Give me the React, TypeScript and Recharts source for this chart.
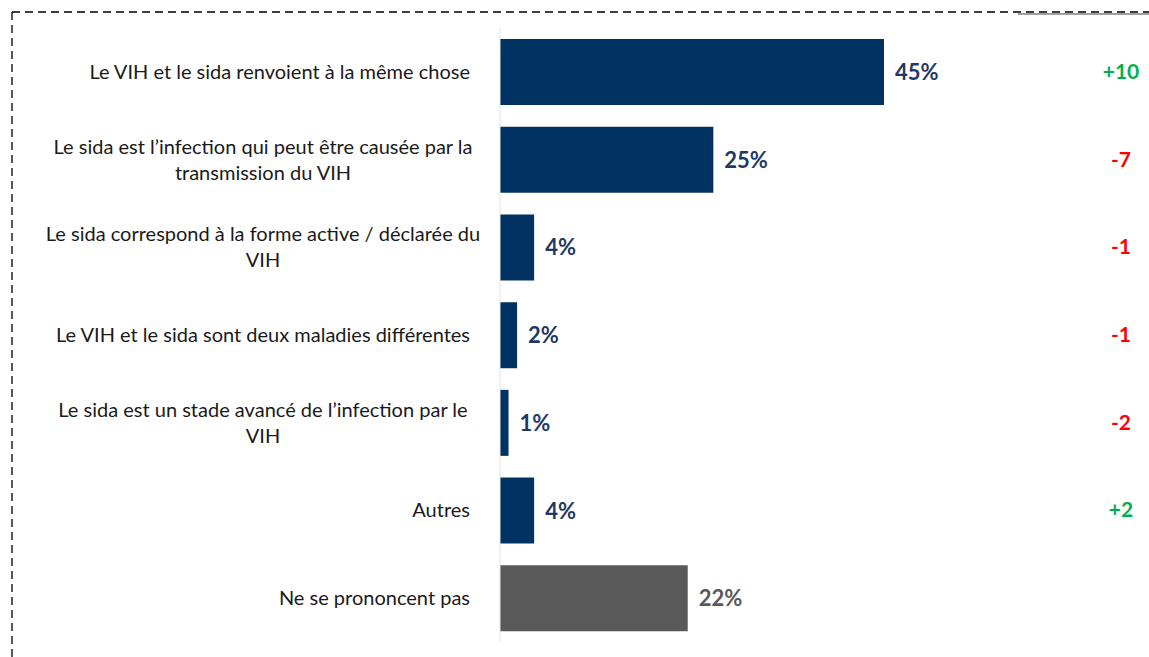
import React from 'react';
import { BarChart, Bar, XAxis, YAxis, Cell, LabelList } from 'recharts';

const categories = [
  'Le VIH et le sida renvoient à la même chose',
  'Le sida est l’infection qui peut être causée par la|transmission du VIH',
  'Le sida correspond à la forme active / déclarée du|VIH',
  'Le VIH et le sida sont deux maladies différentes',
  'Le sida est un stade avancé de l’infection par le|VIH',
  'Autres',
  'Ne se prononcent pas',
];
const values = [45, 25, 4, 2, 1, 4, 22];
const changes = ['+10', '-7', '-1', '-1', '-2', '+2', ''];

const NAVY = '#003262';
const GREY = '#595959';
const FONT = 'Lato, "Open Sans", sans-serif';

const data = categories.map((name, i) => ({ name, value: values[i] }));

const LeftTick = (props: any) => {
  const { y, payload } = props;
  const lines = String(payload.value).split('|');
  const lh = 26;
  if (lines.length === 1) {
    return (
      <text x={470} y={y} dy={7} textAnchor="end" fontFamily={FONT} fontSize={20} fill="#1a1a1a">
        {lines[0]}
      </text>
    );
  }
  const start = y - ((lines.length - 1) * lh) / 2;
  return (
    <g>
      {lines.map((l, i) => (
        <text key={i} x={263} y={start + i * lh} dy={7} textAnchor="middle" fontFamily={FONT} fontSize={20} fill="#1a1a1a">
          {l}
        </text>
      ))}
    </g>
  );
};

const RightTick = (props: any) => {
  const { y, payload } = props;
  const c = changes[payload.index] || '';
  const color = c.startsWith('+') ? '#00b050' : '#ff0000';
  return (
    <text x={1121} y={y} dy={7} textAnchor="middle" fontFamily={FONT} fontSize={21} fontWeight={700} fill={color}>
      {c}
    </text>
  );
};

const ValueLabel = (props: any) => {
  const { x, y, width, height, value, index } = props;
  return (
    <text
      x={x + width + 11}
      y={y + height / 2}
      dy={8}
      fontFamily={FONT}
      fontSize={22}
      fontWeight={700}
      fill={index === values.length - 1 ? GREY : '#1f3864'}
    >
      {value}%
    </text>
  );
};

export default function App() {
  return (
    <div style={{ position: 'absolute', left: 0, top: 0, width: 1149, height: 657, background: '#fff' }}>
      <BarChart
        width={1149}
        height={657}
        data={data}
        layout="vertical"
        margin={{ top: 28, right: 0, bottom: 15, left: 0 }}
      >
        <XAxis type="number" domain={[0, 60]} hide />
        <YAxis
          yAxisId="left"
          type="category"
          dataKey="name"
          width={500}
          tick={<LeftTick />}
          tickLine={false}
          axisLine={{ stroke: '#e3e3e3' }}
        />
        <YAxis
          yAxisId="right"
          orientation="right"
          type="category"
          dataKey="name"
          width={137}
          tick={<RightTick />}
          tickLine={false}
          axisLine={false}
        />
        <Bar yAxisId="left" dataKey="value" barSize={66} isAnimationActive={false}>
          {data.map((_, i) => (
            <Cell key={i} fill={i === data.length - 1 ? GREY : NAVY} />
          ))}
          <LabelList dataKey="value" content={<ValueLabel />} />
        </Bar>
      </BarChart>
      <svg width={1149} height={657} style={{ position: 'absolute', left: 0, top: 0, pointerEvents: 'none' }}>
        <line x1={12} y1={12} x2={1149} y2={12} stroke="#000" strokeWidth={1.3} strokeDasharray="8 5" />
        <line x1={12} y1={12} x2={12} y2={657} stroke="#000" strokeWidth={1.3} strokeDasharray="8 5" />
        <line x1={1018} y1={14} x2={1149} y2={14} stroke="#7f7f7f" strokeWidth={1.5} />
      </svg>
    </div>
  );
}
